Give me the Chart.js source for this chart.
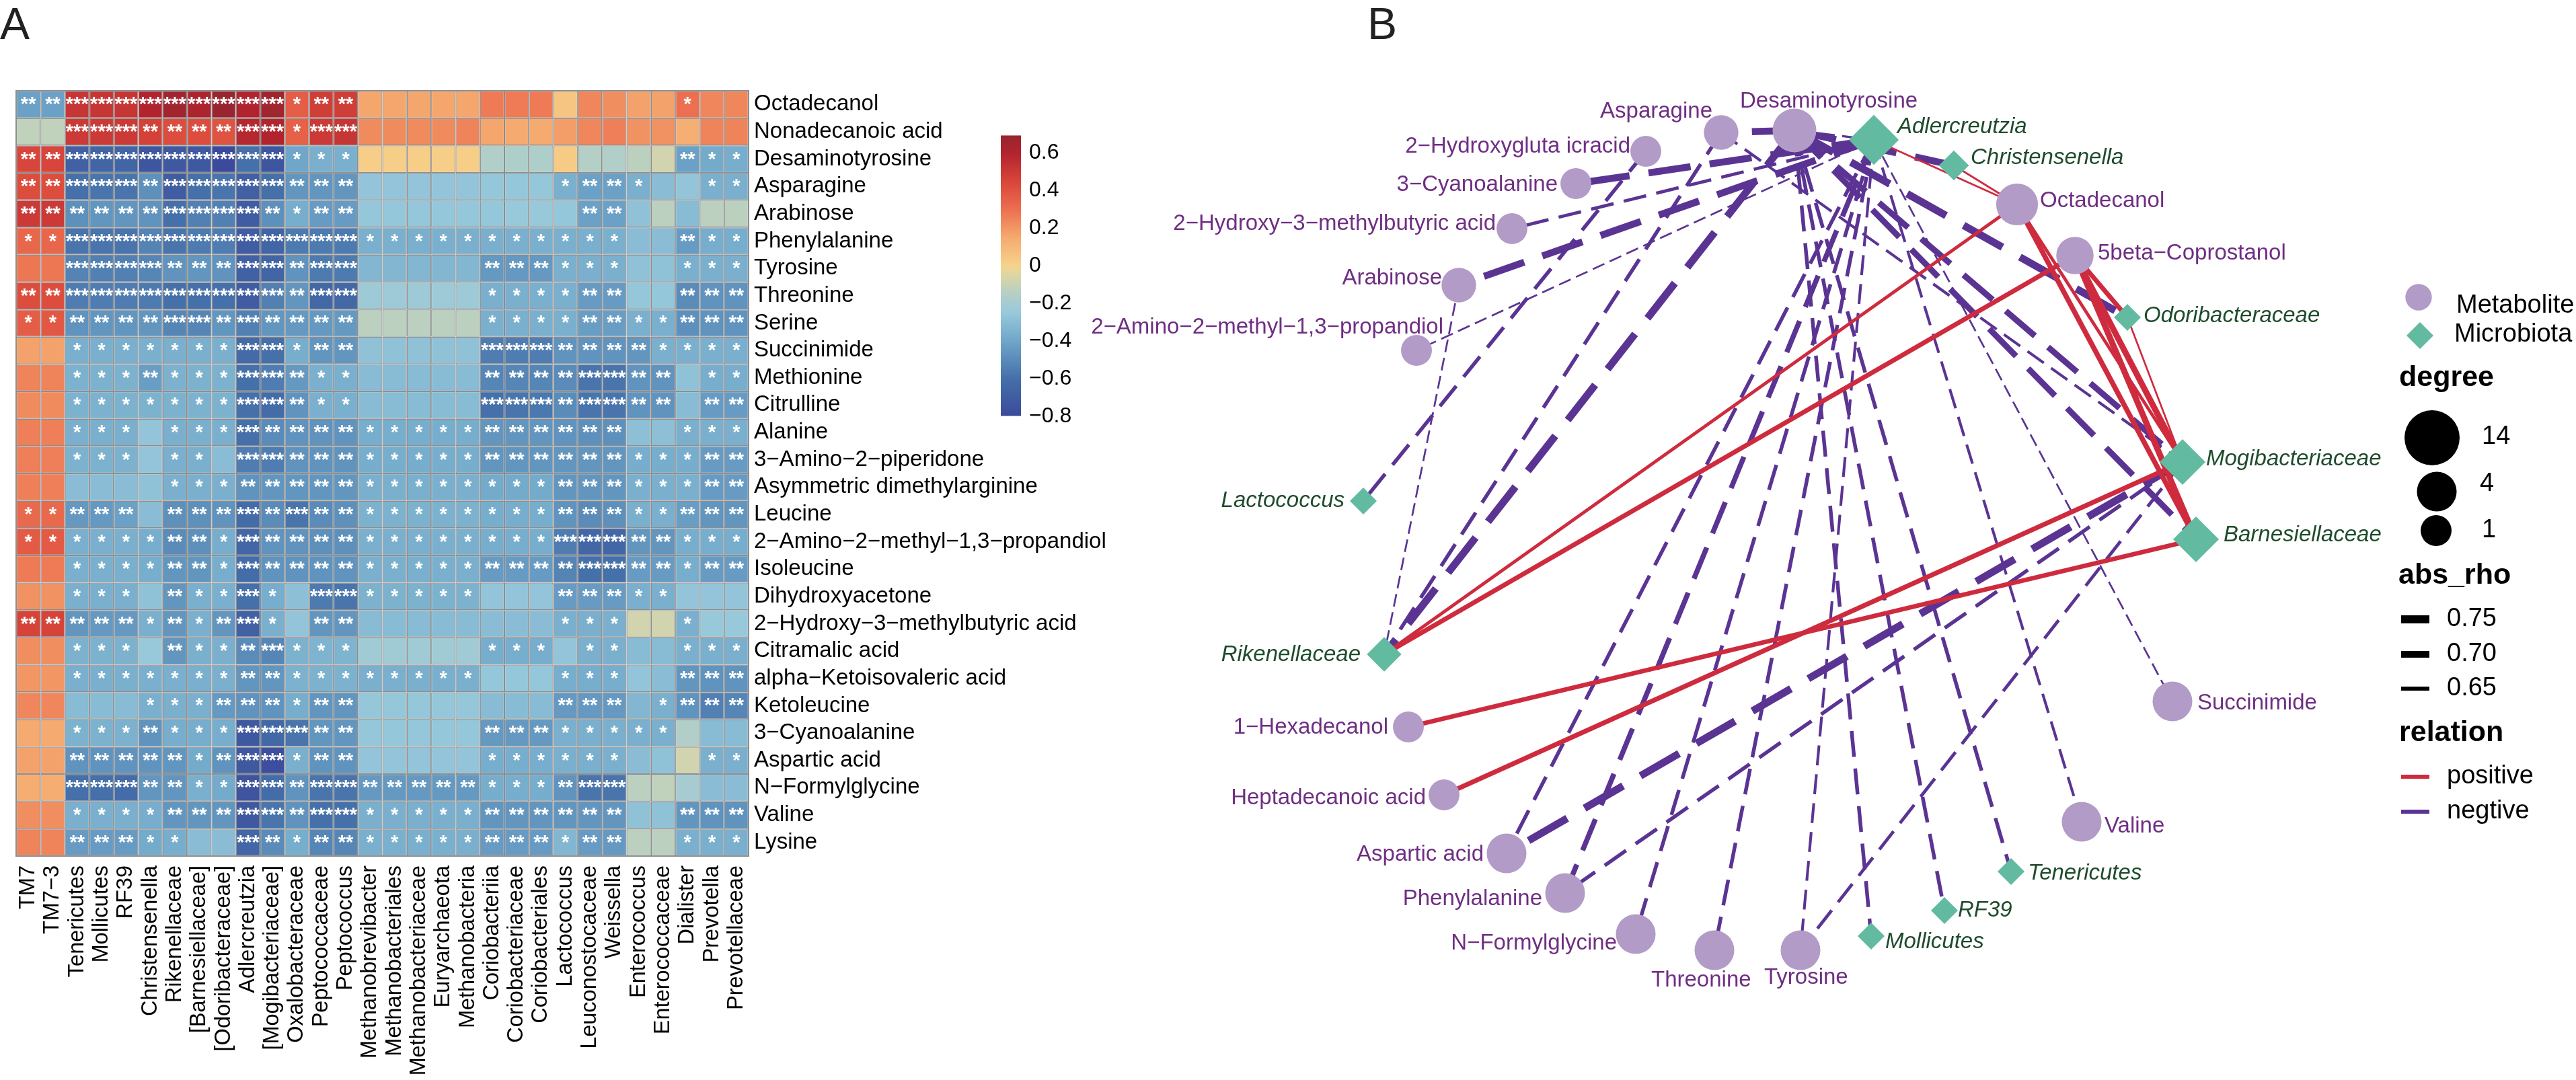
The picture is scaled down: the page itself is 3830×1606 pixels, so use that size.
<!DOCTYPE html>
<html>
<head>
<meta charset="utf-8">
<title>Heatmap and network</title>
<script src="https://cdn.jsdelivr.net/npm/chart.js@4"></script>
<style>
html, body { margin: 0; padding: 0; background: #fff; width: 3830px; height: 1606px; overflow: hidden; }
canvas { position: absolute; }
.panel { position: absolute; top: 2px; font: 66px/66px "Liberation Sans", sans-serif; color: #222; }
</style>
</head>
<body>
<div class="panel" style="left:0">A</div>
<div class="panel" style="left:2033px">B</div>
<canvas id="heat" width="1700" height="1606" style="left:0;top:0"></canvas>
<canvas id="bar" width="180" height="480" style="left:1488px;top:170px"></canvas>
<canvas id="net" width="3830" height="1606" style="left:0;top:0"></canvas>
<script>
Chart.defaults.font.family = '"Liberation Sans", sans-serif';
Chart.defaults.devicePixelRatio = 1;

// --- Heatmap data ---
const colLabels = ['TM7','TM7\u22123','Tenericutes','Mollicutes','RF39','Christensenella','Rikenellaceae','[Barnesiellaceae]','[Odoribacteraceae]','Adlercreutzia','[Mogibacteriaceae]','Oxalobacteraceae','Peptococcaceae','Peptococcus','Methanobrevibacter','Methanobacteriales','Methanobacteriaceae','Euryarchaeota','Methanobacteria','Coriobacteriia','Coriobacteriaceae','Coriobacteriales','Lactococcus','Leuconostocaceae','Weissella','Enterococcus','Enterococcaceae','Dialister','Prevotella','Prevotellaceae'];
const rowLabels = ['Octadecanol','Nonadecanoic acid','Desaminotyrosine','Asparagine','Arabinose','Phenylalanine','Tyrosine','Threonine','Serine','Succinimide','Methionine','Citrulline','Alanine','3\u2212Amino\u22122\u2212piperidone','Asymmetric dimethylarginine','Leucine','2\u2212Amino\u22122\u2212methyl\u22121,3\u2212propandiol','Isoleucine','Dihydroxyacetone','2\u2212Hydroxy\u22123\u2212methylbutyric acid','Citramalic acid','alpha\u2212Ketoisovaleric acid','Ketoleucine','3\u2212Cyanoalanine','Aspartic acid','N\u2212Formylglycine','Valine','Lysine'];
const rho = [
  [-.42,-.42,.52,.52,.52,.6,.66,.62,.69,.6,.66,.36,.48,.48,.16,.16,.16,.16,.16,.27,.27,.27,.05,.24,.22,.17,.17,.3,.24,.24],
  [-.12,-.12,.5,.5,.5,.47,.42,.42,.4,.58,.6,.35,.5,.52,.23,.23,.23,.23,.25,.16,.15,.15,.18,.24,.26,.21,.21,.13,.25,.25],
  [.45,.45,-.68,-.66,-.66,-.74,-.72,-.72,-.8,-.6,-.74,-.4,-.36,-.36,.02,.02,.02,.02,.02,-.16,-.17,-.17,.03,-.15,-.16,-.13,-.08,-.42,-.38,-.37],
  [.42,.42,-.6,-.58,-.58,-.48,-.7,-.6,-.58,-.68,-.6,-.46,-.46,-.46,-.27,-.27,-.27,-.27,-.27,-.26,-.26,-.26,-.36,-.42,-.42,-.36,-.3,-.27,-.36,-.36],
  [.5,.5,-.48,-.46,-.46,-.47,-.6,-.54,-.54,-.7,-.48,-.37,-.44,-.44,-.26,-.26,-.26,-.26,-.26,-.26,-.25,-.25,-.26,-.42,-.42,-.28,-.13,-.31,-.13,-.13],
  [.33,.33,-.58,-.58,-.58,-.53,-.58,-.56,-.55,-.7,-.66,-.56,-.56,-.56,-.36,-.36,-.36,-.36,-.36,-.36,-.36,-.36,-.36,-.36,-.36,-.3,-.3,-.44,-.37,-.37],
  [.28,.28,-.53,-.54,-.54,-.52,-.47,-.46,-.47,-.68,-.66,-.47,-.56,-.56,-.33,-.33,-.33,-.33,-.33,-.45,-.45,-.45,-.36,-.36,-.36,-.28,-.28,-.36,-.36,-.36],
  [.42,.42,-.55,-.55,-.55,-.56,-.6,-.6,-.6,-.7,-.54,-.46,-.64,-.64,-.23,-.23,-.23,-.23,-.23,-.36,-.36,-.36,-.36,-.44,-.44,-.26,-.26,-.5,-.47,-.47],
  [.36,.38,-.47,-.46,-.46,-.46,-.52,-.52,-.46,-.54,-.46,-.45,-.45,-.45,-.13,-.13,-.13,-.13,-.13,-.36,-.36,-.36,-.36,-.43,-.43,-.36,-.36,-.48,-.47,-.47],
  [.17,.17,-.36,-.36,-.36,-.36,-.36,-.36,-.36,-.63,-.6,-.37,-.46,-.46,-.28,-.28,-.28,-.28,-.28,-.55,-.55,-.55,-.47,-.47,-.47,-.46,-.36,-.36,-.36,-.36],
  [.25,.25,-.35,-.35,-.35,-.43,-.35,-.35,-.35,-.6,-.55,-.45,-.36,-.36,-.31,-.31,-.31,-.31,-.31,-.52,-.52,-.52,-.5,-.58,-.58,-.47,-.47,-.28,-.37,-.37],
  [.23,.23,-.35,-.35,-.35,-.35,-.35,-.35,-.35,-.6,-.62,-.47,-.36,-.36,-.31,-.31,-.31,-.31,-.31,-.6,-.58,-.57,-.5,-.58,-.58,-.47,-.47,-.31,-.44,-.44],
  [.26,.26,-.36,-.36,-.36,-.27,-.36,-.36,-.36,-.6,-.5,-.47,-.47,-.47,-.37,-.37,-.37,-.37,-.37,-.46,-.46,-.46,-.47,-.48,-.48,-.29,-.29,-.36,-.36,-.36],
  [.26,.26,-.35,-.35,-.35,-.27,-.36,-.36,-.3,-.55,-.55,-.47,-.47,-.47,-.37,-.37,-.37,-.37,-.37,-.46,-.46,-.46,-.46,-.46,-.46,-.37,-.37,-.37,-.44,-.44],
  [.26,.26,-.3,-.3,-.3,-.28,-.36,-.36,-.36,-.47,-.46,-.46,-.46,-.46,-.36,-.36,-.36,-.36,-.36,-.38,-.38,-.38,-.46,-.46,-.46,-.36,-.36,-.36,-.44,-.44],
  [.32,.32,-.45,-.45,-.42,-.3,-.48,-.48,-.47,-.62,-.5,-.58,-.5,-.48,-.35,-.35,-.35,-.35,-.35,-.37,-.37,-.37,-.47,-.5,-.48,-.36,-.36,-.43,-.46,-.46],
  [.37,.37,-.36,-.36,-.36,-.37,-.5,-.48,-.37,-.65,-.47,-.47,-.48,-.48,-.36,-.36,-.36,-.36,-.36,-.37,-.37,-.37,-.55,-.65,-.65,-.46,-.46,-.37,-.37,-.37],
  [.27,.27,-.36,-.36,-.36,-.37,-.46,-.46,-.37,-.62,-.47,-.47,-.47,-.47,-.36,-.36,-.36,-.36,-.36,-.44,-.44,-.44,-.53,-.6,-.6,-.44,-.44,-.37,-.44,-.44],
  [.21,.21,-.36,-.36,-.36,-.28,-.46,-.36,-.36,-.6,-.37,-.29,-.56,-.58,-.35,-.35,-.35,-.35,-.35,-.27,-.27,-.27,-.44,-.44,-.44,-.36,-.36,-.27,-.27,-.27],
  [.46,.46,-.46,-.45,-.45,-.36,-.46,-.36,-.46,-.68,-.36,-.27,-.46,-.46,-.31,-.31,-.31,-.31,-.31,-.3,-.3,-.3,-.36,-.36,-.36,-.08,-.08,-.36,-.25,-.25],
  [.22,.22,-.35,-.35,-.35,-.25,-.46,-.36,-.36,-.5,-.52,-.35,-.34,-.34,-.22,-.22,-.22,-.22,-.22,-.37,-.37,-.37,-.27,-.36,-.36,-.31,-.31,-.36,-.36,-.36],
  [.2,.2,-.36,-.36,-.36,-.36,-.36,-.36,-.36,-.46,-.46,-.35,-.35,-.35,-.36,-.36,-.36,-.36,-.36,-.26,-.26,-.26,-.37,-.37,-.37,-.27,-.3,-.46,-.47,-.47],
  [.24,.24,-.31,-.31,-.31,-.36,-.36,-.36,-.45,-.47,-.47,-.37,-.46,-.46,-.26,-.26,-.26,-.26,-.26,-.31,-.31,-.31,-.45,-.45,-.45,-.33,-.36,-.47,-.54,-.52],
  [.15,.15,-.35,-.35,-.35,-.47,-.37,-.37,-.37,-.72,-.64,-.58,-.46,-.46,-.26,-.26,-.26,-.26,-.26,-.45,-.45,-.45,-.36,-.36,-.36,-.36,-.36,-.16,-.31,-.31],
  [.17,.17,-.47,-.47,-.47,-.47,-.46,-.38,-.47,-.72,-.78,-.36,-.47,-.47,-.27,-.27,-.27,-.27,-.27,-.37,-.37,-.37,-.36,-.36,-.36,-.3,-.28,-.08,-.36,-.36],
  [.14,.14,-.6,-.6,-.62,-.46,-.46,-.36,-.38,-.75,-.62,-.47,-.58,-.58,-.45,-.45,-.45,-.45,-.45,-.37,-.37,-.37,-.47,-.58,-.58,-.13,-.12,-.2,-.3,-.3],
  [.22,.22,-.36,-.36,-.36,-.37,-.46,-.46,-.46,-.72,-.58,-.47,-.6,-.6,-.36,-.36,-.36,-.36,-.36,-.46,-.46,-.46,-.46,-.46,-.46,-.28,-.28,-.46,-.47,-.47],
  [.25,.25,-.44,-.44,-.44,-.38,-.37,-.3,-.3,-.65,-.5,-.37,-.52,-.52,-.36,-.36,-.36,-.36,-.36,-.44,-.44,-.44,-.33,-.44,-.45,-.13,-.13,-.36,-.36,-.36]
];
// number of asterisks per cell
const stars = [
  '223333333331220000000000000100','003332222331330000000000000000','223333333331110000000000000211',
  '223332333332220000000012210011','222222333321220000000002200000','113333333333331111111111100211',
  '003333222332330000022211100111','223333333332330000011112200222','112222332322220000011112211222',
  '001111111331220000033322221111','001112111332110000022223322011','001111111332110000033323322022',
  '001110111322221111122222200111','001110110332221111122222211122','000000111222221111111122211122',
  '112220222323221111111122211222','111111221322221111111133322111','001111221322221111122223322122',
  '001110211310331111100022211000','222221212310220000000011100100','001110211231110000011101100111',
  '001111111221111111100011100222','000001112221220000000022201222','001112111333220000022211111000',
  '002222212331220000011111100011','003332211332332222211123300000','001111222332331111122222200222',
  '002221100321221111122212200111'
];
const colorTicks = [-0.8,-0.6,-0.4,-0.2,0,0.2,0.4,0.6];
const colorStops = [-0.8,-0.6,-0.4,-0.25,-0.15,-0.05,0,0.15,0.3,0.45,0.6,0.694];
const colorHex = ['#3b4a9c','#4570a9','#6fa6c9','#98c9db','#b4cfc6','#ddd6a4','#f6d38c','#f5aa6f','#ec6f4f','#d8453a','#b1242e','#97252f'];

// --- Network data ---
const nodeId = ['desam','aspn','hglut','cyano','ohmb','arab','amino','lacto','rik','hexa','hepta','asp','phe','nform','thr','tyr','moll','rf39','ten','val','succ','barn','mogi','odori','beta','octad','christ','adler'];
const nodeName = ['Desaminotyrosine','Asparagine','2\u2212Hydroxygluta icracid','3\u2212Cyanoalanine','2\u2212Hydroxy\u22123\u2212methylbutyric acid','Arabinose','2\u2212Amino\u22122\u2212methyl\u22121,3\u2212propandiol','Lactococcus','Rikenellaceae','1\u2212Hexadecanol','Heptadecanoic acid','Aspartic acid','Phenylalanine','N\u2212Formylglycine','Threonine','Tyrosine','Mollicutes','RF39','Tenericutes','Valine','Succinimide','Barnesiellaceae','Mogibacteriaceae','Odoribacteraceae','5beta\u2212Coprostanol','Octadecanol','Christensenella','Adlercreutzia'];
const nodeKind = ['M','M','M','M','M','M','M','B','B','M','M','M','M','M','M','M','B','B','B','M','M','B','B','B','M','M','B','B'];
const nodeDegree = [6,2,1,1,1,2,1,1,4,1,1,4,4,4,4,4,1,1,1,4,4,12,12,1,3,5,2,16];
// layout
const layoutX = [2668,2559,2447,2343,2248,2169,2106,2027,2058,2094,2147,2240,2327,2432,2549,2677,2782,2891,2990,3095,3230,3265,3245,3163,3085,2999,2905,2786];
const layoutY = [194,197,225,273,340,424,521,745,973,1081,1182,1269,1328,1389,1413,1413,1392,1354,1296,1222,1043,802,687,472,380,304,246,208];
const labelX = [2587,2546,2424,2316,2224,2144,2146,1999,2023,2064,2120,2206,2293,2404,2455,2623,2803,2911,3015,3129,3267,3306,3280,3187,3119,3033,2930,2821];
const labelY = [151,166,218,275,333,414,487,745,974,1082,1187,1271,1337,1403,1458,1454,1401,1354,1299,1229,1046,796,683,470,377,299,235,189];
const labelAlign = ['left','right','right','right','right','right','right','right','right','right','right','right','right','right','left','left','left','left','left','left','left','left','left','left','left','left','left','left'];

const negEdges = [
  ['desam','aspn',.72],['desam','adler',.62],['desam','christ',.72],['desam','rik',.73],['desam','odori',.73],
  ['desam','mogi',.70],['desam','barn',.70],['desam','ten',.65],['desam','rf39',.65],['desam','moll',.65],
  ['aspn','rik',.65],['aspn','mogi',.63],['hglut','lacto',.65],['adler','cyano',.72],['adler','ohmb',.64],
  ['adler','arab',.72],['adler','amino',.61],['adler','succ',.61],['adler','val',.63],['adler','tyr',.63],
  ['adler','thr',.65],['adler','nform',.65],['adler','phe',.68],['adler','asp',.65],['arab','rik',.61],
  ['mogi','asp',.73],['mogi','phe',.65],['mogi','tyr',.64]
];
const posEdges = [
  ['adler','octad',.61],['christ','octad',.61],['octad','rik',.64],['beta','rik',.67],['octad','mogi',.64],
  ['octad','barn',.68],['beta','mogi',.70],['beta','barn',.70],['beta','odori',.67],['odori','mogi',.61],
  ['hexa','barn',.67],['hepta','mogi',.67]
];
const degreeKeys = [14,4,1];
const rhoKeys = ['0.75','0.70','0.65'];
const relationKeys = ['positive','negtive'];

// --- Colour scale ---
function hexRgb(h) { return [1,3,5].map(i => parseInt(h.substr(i,2),16)); }
function heatColor(v) {
  let i = 0;
  while (i < colorStops.length-2 && v > colorStops[i+1]) i++;
  const t = Math.min(1, Math.max(0, (v-colorStops[i])/(colorStops[i+1]-colorStops[i])));
  const a = hexRgb(colorHex[i]), b = hexRgb(colorHex[i+1]);
  return 'rgb(' + a.map((c,k) => Math.round(c+(b[k]-c)*t)).join(',') + ')';
}

// --- Heatmap ---
const GRID = '#8e8e8e';
const starPlugin = {
  id: 'stars',
  afterDatasetsDraw(chart) {
    const c = chart.ctx;
    c.save();
    c.fillStyle = '#fff';
    c.font = 'bold 29px "Liberation Sans"';
    c.textAlign = 'center';
    c.textBaseline = 'middle';
    chart.data.datasets.forEach((ds,di) => {
      const s = stars[ds.row];
      chart.getDatasetMeta(di).data.forEach((bar,i) => {
        const n = +s[i];
        if (n) c.fillText('*'.repeat(n), bar.x, (bar.y+bar.base)/2+1);
      });
    });
    const a = chart.chartArea;
    c.strokeStyle = GRID;
    c.lineWidth = 2;
    c.strokeRect(a.left, a.top, a.right-a.left, a.bottom-a.top);
    c.restore();
  }
};
new Chart(document.getElementById('heat'), {
  type: 'bar',
  data: {
    labels: colLabels,
    datasets: rowLabels.map((name,r) => ({
      label: name, row: r,
      data: colLabels.map(() => 1),
      backgroundColor: rho[r].map(heatColor),
      borderColor: GRID, borderWidth: 1.25, borderSkipped: false, inflateAmount: 0,
      barPercentage: 1, categoryPercentage: 1
    })).reverse()
  },
  options: {
    responsive: false, animation: false,
    layout: { padding: { left: 24, top: 135 } },
    plugins: { legend: { display: false }, tooltip: { enabled: false } },
    scales: {
      x: {
        stacked: true,
        grid: { display: false, drawTicks: false }, border: { display: false },
        ticks: { autoSkip: false, minRotation: 90, maxRotation: 90, padding: 14, color: '#000', font: { size: 32.5 } },
        afterFit(s) { s.height = 333; }
      },
      y: { stacked: true, display: false, min: 0, max: rowLabels.length },
      rows: {
        type: 'category', axis: 'y', position: 'right', labels: rowLabels, offset: true,
        grid: { display: false, drawTicks: false }, border: { display: false },
        ticks: { autoSkip: false, padding: 8, color: '#000', font: { size: 33 } },
        afterFit(s) { s.width = 587; }
      }
    }
  },
  plugins: [starPlugin]
});

// --- Colour bar ---
new Chart(document.getElementById('bar'), {
  type: 'bar',
  data: {
    labels: ['rho'],
    datasets: [{
      data: [[colorStops[0], colorStops[colorStops.length-1]]],
      barPercentage: 1, categoryPercentage: 1, inflateAmount: 0,
      backgroundColor(ctx) {
        const a = ctx.chart.chartArea, y = ctx.chart.scales.y;
        if (!a) return colorHex[0];
        const g = ctx.chart.ctx.createLinearGradient(0, a.bottom, 0, a.top);
        colorStops.forEach((v,i) => g.addColorStop((y.getPixelForValue(v)-a.bottom)/(a.top-a.bottom), colorHex[i]));
        return g;
      }
    }]
  },
  options: {
    responsive: false, animation: false,
    layout: { padding: { top: 13, bottom: 21 } },
    plugins: { legend: { display: false }, tooltip: { enabled: false } },
    scales: {
      x: { display: false },
      y: {
        position: 'right', min: colorStops[0], max: colorStops[colorStops.length-1],
        afterBuildTicks(s) { s.ticks = colorTicks.map(v => ({ value: v })); },
        afterFit(s) { s.width = 150; },
        grid: { display: false, drawTicks: false }, border: { display: false },
        ticks: {
          padding: 12, color: '#000', font: { size: 32 },
          callback: v => v === 0 ? '0' : (v < 0 ? '\u2212' : '') + Math.abs(v).toFixed(1)
        }
      }
    }
  }
});

// --- Network ---
const METAB = '#b39bc8', MICRO = '#62bba1', RED = '#cf2b3e', PURPLE = '#5b3493';
const nodeIndex = id => nodeId.indexOf(id);
const nodeRadius = (d, kind) => (16.4 + 6.57*Math.sqrt(d)) * (kind === 'B' ? 0.87 : 1);
const edgeWidth = r => 2.7 + (r-0.61)*70;
function edgeSet(list, color, dashed) {
  return list.map(([a,b,r]) => {
    const i = nodeIndex(a), j = nodeIndex(b), w = edgeWidth(r);
    const dash = 28*Math.sqrt(w)-27;
    return {
      type: 'scatter', showLine: true, pointRadius: 0,
      data: [{ x: layoutX[i], y: layoutY[i] }, { x: layoutX[j], y: layoutY[j] }],
      borderColor: color, borderWidth: w, borderDash: dashed ? [dash, dash*0.45] : []
    };
  });
}
const netPlugin = {
  id: 'netLabels',
  afterDatasetsDraw(chart) {
    const c = chart.ctx, X = chart.scales.x, Y = chart.scales.y;
    c.save();
    c.textBaseline = 'middle';
    nodeName.forEach((name,i) => {
      const micro = nodeKind[i] === 'B';
      c.font = (micro ? 'italic ' : '') + '33px "Liberation Sans"';
      c.fillStyle = micro ? '#1e4c2c' : '#6f2e83';
      c.textAlign = labelAlign[i];
      c.fillText(name, X.getPixelForValue(labelX[i]), Y.getPixelForValue(labelY[i]));
    });
    // legend
    const text = (t, x, y, bold) => {
      c.font = (bold ? 'bold 43px' : '38px') + ' "Liberation Sans"';
      c.fillStyle = '#000';
      c.textAlign = 'left';
      c.fillText(t, x, y);
    };
    const dot = (x, y, r, col) => { c.fillStyle = col; c.beginPath(); c.arc(x, y, r, 0, Math.PI*2); c.fill(); };
    dot(3596, 442, 19.7, METAB);
    c.fillStyle = MICRO;
    c.beginPath(); c.moveTo(3598,479); c.lineTo(3618,499); c.lineTo(3598,519); c.lineTo(3578,499); c.fill();
    text('Metabolite', 3652, 455);
    text('Microbiota', 3649, 498);
    text('degree', 3567, 562, true);
    [[3616,651,3690,650],[3623,731,3687,720],[3622,789,3690,789]].forEach((p,i) => {
      dot(p[0], p[1], nodeRadius(degreeKeys[i],'M'), '#000');
      text(String(degreeKeys[i]), p[2], p[3]);
    });
    text('abs_rho', 3566, 856, true);
    [[921,12],[973,10],[1024,6]].forEach((p,i) => {
      c.fillStyle = '#000';
      c.fillRect(3570, p[0]-p[1]/2, 42, p[1]);
      text(rhoKeys[i], 3638, p[0]);
    });
    text('relation', 3567, 1090, true);
    [[1155,RED],[1207,PURPLE]].forEach((p,i) => {
      c.fillStyle = p[1];
      c.fillRect(3570, p[0]-3, 42, 6);
      text(relationKeys[i], 3638, p[0]);
    });
    c.restore();
  }
};
new Chart(document.getElementById('net'), {
  type: 'scatter',
  data: {
    datasets: [{
      data: nodeId.map((id,i) => ({ x: layoutX[i], y: layoutY[i] })),
      pointStyle: nodeKind.map(k => k === 'B' ? 'rectRot' : 'circle'),
      pointRadius: nodeDegree.map((d,i) => nodeRadius(d, nodeKind[i])),
      pointBackgroundColor: nodeKind.map(k => k === 'B' ? MICRO : METAB),
      pointBorderWidth: 0
    }].concat(edgeSet(posEdges, RED, false), edgeSet(negEdges, PURPLE, true))
  },
  options: {
    responsive: false, animation: false,
    layout: { padding: 0, autoPadding: false },
    plugins: { legend: { display: false }, tooltip: { enabled: false } },
    scales: {
      x: { display: false, min: 0, max: 3830 },
      y: { display: false, min: 0, max: 1606, reverse: true }
    }
  },
  plugins: [netPlugin]
});
</script>
</body>
</html>
